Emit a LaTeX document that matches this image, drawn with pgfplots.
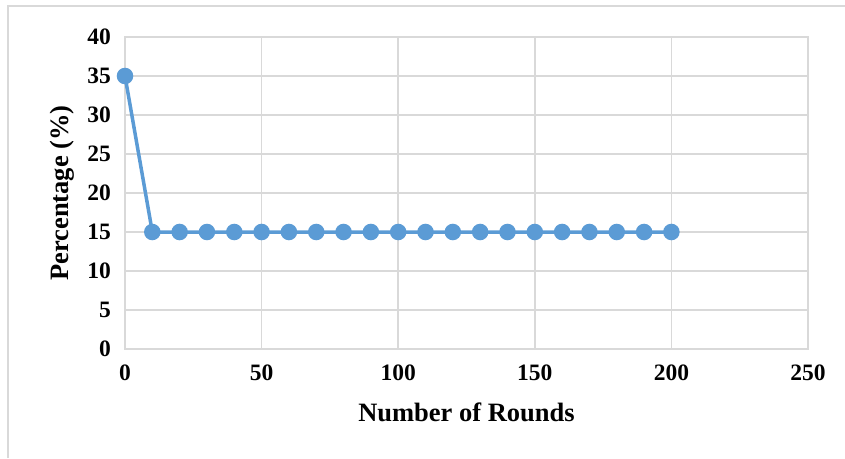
\documentclass[border=0pt]{standalone}
\usepackage{fontspec}
\setmainfont{Liberation Serif}
\usepackage{pgfplots}
\pgfplotsset{compat=1.18}
\definecolor{gridc}{RGB}{217,217,217}
\definecolor{serc}{RGB}{91,155,213}
\begin{document}
\fontsize{21}{25}\selectfont
\begin{tikzpicture}[x=1pt,y=1pt]
\useasboundingbox (0,0) rectangle (845,458);
\draw[gridc, line width=2pt] (8,0) -- (8,452) -- (845,452);
\begin{axis}[
  at={(125pt,109pt)}, anchor=south west,
  scale only axis, width=683pt, height=312pt,
  xmin=0, xmax=250, ymin=0, ymax=40,
  xtick={0,50,...,250}, ytick={0,5,...,40},
  grid=major,
  major grid style={gridc, line width=1.5pt},
  axis line style={gridc, line width=1.5pt},
  tick style={draw=none},
  /pgf/number format/assume math mode=true,
  ticklabel style={font=\fontsize{23.5}{27}\selectfont\bfseries},
  xticklabel style={yshift=-9pt},
  yticklabel style={xshift=-7pt},
  xlabel={Number of Rounds},
  ylabel={Percentage (\%)},
  label style={font=\fontsize{26.5}{30}\selectfont\bfseries},
  xlabel style={at={(axis description cs:0.5,0)}, anchor=center, yshift=-63pt},
  ylabel style={at={(axis description cs:0,0.5)}, anchor=center, rotate=0, yshift=63pt},
  clip=false,
]
\addplot[serc, line width=3.5pt, mark=*, mark size=6.5pt, mark options={fill=serc, draw=none}]
coordinates {(0,35) (10,15) (20,15) (30,15) (40,15) (50,15) (60,15) (70,15) (80,15) (90,15) (100,15) (110,15) (120,15) (130,15) (140,15) (150,15) (160,15) (170,15) (180,15) (190,15) (200,15)};
\end{axis}
\end{tikzpicture}
\end{document}
